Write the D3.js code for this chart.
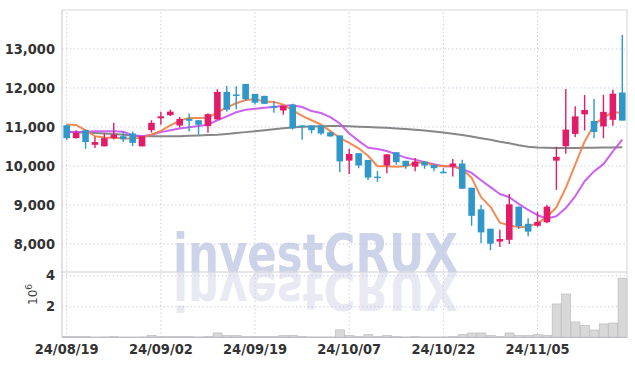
<!DOCTYPE html>
<html><head><meta charset="utf-8">
<script src="https://cdn.jsdelivr.net/npm/d3@7"></script>
<style>
body{margin:0;background:#fff;}
svg{display:block;}
.tk text{font-family:"Liberation Sans Narrow","DejaVu Sans Condensed","Arial Narrow",sans-serif;font-weight:bold;font-size:14.5px;fill:#333;}
</style></head>
<body><svg id="c" width="635" height="366"></svg>
<script>
const dates = ["24/08/19","24/08/20","24/08/21","24/08/22","24/08/23","24/08/26","24/08/27","24/08/28","24/08/29","24/08/30","24/09/02","24/09/03","24/09/04","24/09/05","24/09/06","24/09/09","24/09/10","24/09/11","24/09/12","24/09/13","24/09/19","24/09/20","24/09/23","24/09/24","24/09/25","24/09/26","24/09/27","24/09/30","24/10/02","24/10/04","24/10/07","24/10/08","24/10/10","24/10/11","24/10/14","24/10/15","24/10/16","24/10/17","24/10/18","24/10/21","24/10/22","24/10/23","24/10/24","24/10/25","24/10/28","24/10/29","24/10/30","24/10/31","24/11/01","24/11/04","24/11/05","24/11/06","24/11/07","24/11/08","24/11/11","24/11/12","24/11/13","24/11/14","24/11/15","24/11/18"];
const open  = [11030,10700,10905,10530,10490,10700,10750,10820,10490,10905,11210,11290,11025,11195,11160,11010,11180,11885,11820,12090,11835,11785,11520,11410,11560,11025,11025,11025,10850,10770,10125,10315,10140,9715,10000,10340,10120,9970,10100,10015,9840,9970,10050,9430,8875,8380,8050,8095,8945,8505,8455,8545,10125,10495,10810,11310,11140,11000,11170,11870];
const high  = [11050,10900,10905,10735,10820,11095,10864,10870,10750,11160,11380,11430,11240,11330,11160,11340,11955,12040,12030,12090,11835,11785,11645,11530,11580,11025,11025,11025,10870,10770,10430,10315,10140,9860,10290,10340,10120,10190,10100,10015,9930,10165,10150,9430,8985,8380,8355,9270,8950,8650,8815,8990,10480,11960,11515,11805,11705,11810,11940,13345];
const low   = [10650,10690,10430,10445,10490,10667,10600,10495,10490,10840,11045,11270,10975,10870,10790,10840,11180,11380,11440,11650,11560,11580,11350,11300,10920,10660,10820,10790,10735,9830,9780,9930,9630,9580,9800,10020,9915,9855,9915,9850,9800,9715,9400,8455,8010,7830,7910,7990,8370,8185,8430,8520,9375,10300,10730,10900,10695,10700,11020,11150];
const close = [10700,10840,10600,10600,10700,10790,10670,10580,10750,11095,11260,11380,11195,11145,11045,11315,11885,11430,11800,11700,11610,11580,11480,11530,10955,10990,10905,10820,10745,10105,10295,10000,9690,9705,10285,10085,9985,10100,10000,9930,9810,10050,9405,8710,8285,7995,8115,9005,8445,8305,8552,8945,10222,10920,11258,11423,10860,11375,11840,11150];
const ma5   = [11050,11035,10905,10750,10715,10710,10700,10685,10715,10790,10885,11030,11150,11220,11220,11225,11360,11490,11595,11680,11700,11640,11630,11560,11410,11270,11160,11050,10880,10710,10580,10440,10250,9980,9980,9965,9980,10065,10085,10000,9980,9980,9895,9685,9190,8940,8535,8460,8420,8430,8530,8675,8930,9425,10020,10615,11040,11230,11365,11350];
const ma20  = [10865,10860,10865,10875,10875,10880,10865,10770,10750,10790,10855,10905,10950,10980,11010,11045,11160,11260,11365,11430,11455,11480,11500,11530,11545,11500,11395,11345,11240,11075,10820,10630,10455,10420,10370,10285,10200,10150,10085,10035,9980,9980,9915,9810,9620,9445,9270,9185,9015,8860,8725,8640,8700,8910,9210,9595,9850,10035,10360,10665];
const ma60  = [10855,10850,10840,10830,10820,10805,10790,10770,10755,10750,10750,10750,10750,10760,10770,10780,10790,10810,10830,10855,10880,10905,10930,10955,10975,10990,11000,11005,11010,11010,11005,10995,10985,10975,10965,10950,10935,10915,10895,10870,10845,10815,10780,10740,10700,10660,10610,10570,10520,10480,10460,10455,10450,10450,10450,10455,10455,10460,10460,10465];
const volume = [40000,40000,40000,10000,20000,40000,10000,10000,20000,110000,40000,40000,40000,40000,20000,40000,280000,110000,110000,40000,40000,40000,40000,110000,110000,40000,20000,20000,20000,480000,110000,40000,170000,40000,110000,40000,20000,40000,20000,20000,20000,40000,170000,280000,280000,110000,40000,280000,110000,110000,170000,110000,2150000,2790000,990000,770000,470000,860000,920000,3810000];
const priceTicks = [8000,9000,10000,11000,12000,13000];
const volTicks = [2000000,4000000];
const dateTickIdx = [0,10,20,30,40,50];
const watermark = "investCRUX";

const L=62,R=627,T=10,PB=272,VB=337.3;
const svg=d3.select("#c");
const idx=d3.range(dates.length);
const x=d3.scaleBand().domain(idx).range([L,R]).paddingInner(0.3).paddingOuter(0.15);
const xv=d3.scaleBand().domain(idx).range([L,R]).padding(0);
const cx=i=>x(i)+x.bandwidth()/2;
const y=d3.scaleLinear().domain([7270,13985]).range([PB,T]);
const yv=d3.scaleLinear().domain([0,4210000]).range([VB,PB]);

// watermark
const wm=svg.append("g");
wm.append("text").attr("x",173).attr("y",272).attr("textLength",285).attr("lengthAdjust","spacingAndGlyphs")
 .style("font-family","'DejaVu Sans',sans-serif").style("font-weight","bold").style("font-size","53px")
 .attr("fill","#cdd3e8").text(watermark);
wm.append("text").attr("x",173).attr("y",-272).attr("transform","scale(1,-1)").attr("textLength",285).attr("lengthAdjust","spacingAndGlyphs")
 .style("font-family","'DejaVu Sans',sans-serif").style("font-weight","bold").style("font-size","53px")
 .attr("fill","#e9e9f3").text(watermark);

// grid + axes
const dash="1.3,2.6", gcol="#c4c9e0";
const gy=svg.append("g").attr("class","tk").attr("transform",`translate(${L},0)`)
 .call(d3.axisLeft(y).tickValues(priceTicks).tickFormat(d3.format(",")).tickSize(-(R-L)).tickPadding(7));
const gyv=svg.append("g").attr("class","tk").attr("transform",`translate(${L},0)`)
 .call(d3.axisLeft(yv).tickValues(volTicks).tickFormat(d=>d/1e6).tickSize(-(R-L)).tickPadding(7));
const gx=svg.append("g").attr("class","tk").attr("transform",`translate(0,${VB})`)
 .call(d3.axisBottom(x).tickValues(dateTickIdx).tickFormat(i=>dates[i]).tickSize(-(VB-T)).tickPadding(6));
[gy,gyv,gx].forEach(g=>{g.select(".domain").remove();g.selectAll(".tick line").attr("stroke",gcol).attr("stroke-dasharray",dash);});

// volume bars
svg.append("g").selectAll("rect").data(idx).join("rect")
 .attr("x",i=>xv(i)+0.5).attr("width",xv.bandwidth()-0.5)
 .attr("y",i=>yv(volume[i])).attr("height",i=>VB-yv(volume[i]))
 .attr("fill","#d8d8d8").attr("stroke","#bdbdbd").attr("stroke-width",0.7);

// frame
const fr=svg.append("g").attr("fill","none");
fr.append("line").attr("x1",L).attr("x2",R).attr("y1",T).attr("y2",T).attr("stroke","#d4d4dc");
fr.append("line").attr("x1",R).attr("x2",R).attr("y1",T).attr("y2",VB).attr("stroke","#d4d4dc");
fr.append("line").attr("x1",L).attr("x2",L).attr("y1",T).attr("y2",VB).attr("stroke","#c4c4cc");
fr.append("line").attr("x1",L).attr("x2",R).attr("y1",PB).attr("y2",PB).attr("stroke","#cfcfd6");
fr.append("line").attr("x1",L).attr("x2",R).attr("y1",VB).attr("y2",VB).attr("stroke","#b8b8c0");

// MA lines
const line=arr=>d3.line().x(i=>cx(i)).y(i=>y(arr[i]))(idx);
[[ma60,"#7a7a7a"],[ma20,"#c850ee"],[ma5,"#ef7f45"]].forEach(([a,c])=>{
 svg.append("path").attr("d",line(a)).attr("fill","none").attr("stroke",c).attr("stroke-width",2).attr("stroke-opacity",0.9).attr("stroke-linejoin","round");
});

// candles
const up="#e31c6a", dn="#2f97c9";
const cg=svg.append("g").selectAll("g").data(idx).join("g");
cg.append("line").attr("x1",cx).attr("x2",cx).attr("y1",i=>y(high[i])).attr("y2",i=>y(low[i]))
 .attr("stroke",i=>close[i]>=open[i]?up:dn).attr("stroke-width",1.4);
cg.append("rect").attr("x",i=>x(i)).attr("width",x.bandwidth())
 .attr("y",i=>y(Math.max(open[i],close[i])))
 .attr("height",i=>Math.max(1.5,Math.abs(y(open[i])-y(close[i]))))
 .attr("fill",i=>close[i]>=open[i]?up:dn);

// 10^6 label
const ul=svg.append("text").attr("transform","translate(37,305) rotate(-90)")
 .style("font-family","'DejaVu Sans',sans-serif").style("font-size","12px").attr("fill","#444");
ul.append("tspan").text("10");
ul.append("tspan").attr("dy",-5).style("font-size","9px").text("6");
</script></body></html>
